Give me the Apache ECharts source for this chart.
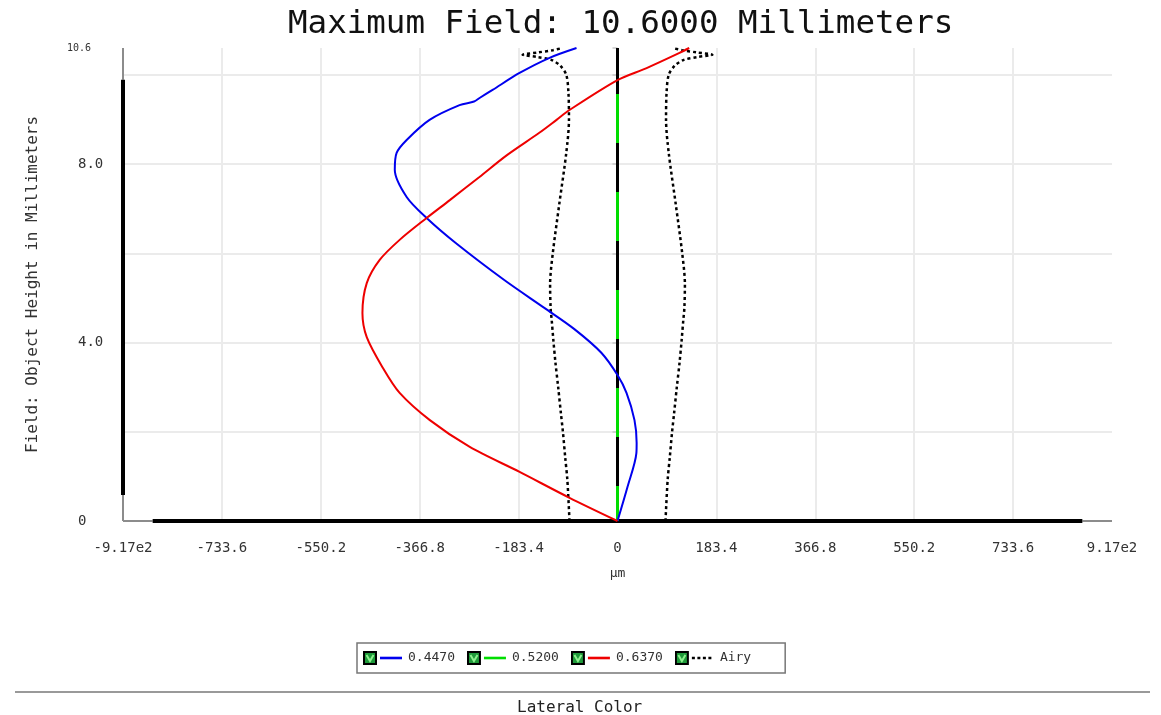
<!DOCTYPE html>
<html>
<head>
<meta charset="utf-8">
<title>Lateral Color</title>
<script src="https://cdn.jsdelivr.net/npm/echarts@6/dist/echarts.min.js"></script>
<style>
  html, body { margin: 0; padding: 0; background: #fff; }
  #chart { width: 1161px; height: 715px; }
</style>
</head>
<body>
<div id="chart"></div>
<script>
// Lateral color vs. field height (µm offset of each wavelength from the primary)
const wavelengths = ['0.4470', '0.5200', '0.6370', 'Airy'];
const seriesColors = ['#0000ee', '#00dd00', '#ee0000', '#000000'];

// 0.4470 µm: field height (mm) and lateral offset (µm)
const blueHeights = [0, 0.76, 1.52, 1.75, 2.26, 2.87, 3.27, 3.77, 4.30, 4.77, 5.40, 6.23, 6.79, 7.26, 7.87, 8.25, 8.54, 8.99, 9.32, 9.40, 9.48, 9.66, 10.04, 10.38, 10.6];
const blueOffsets = [0, 18.5, 35, 35.5, 31.5, 16.7, 0, -30, -80, -135, -210, -300, -354, -391, -413, -409.6, -391, -348.5, -292.9, -266, -255.8, -231.7, -181.6, -126, -76];

// 0.5200 µm is the reference wavelength: zero offset over the whole field
const greenHeights = [0, 10.6];
const greenOffsets = [0, 0];

// 0.6370 µm
const redHeights = [0, 0.52, 1.10, 1.66, 2.26, 2.87, 3.43, 4.12, 4.66, 5.33, 5.85, 6.30, 6.79, 7.19, 7.71, 8.20, 8.70, 8.99, 9.21, 9.88, 10.15, 10.49, 10.6];
const redOffsets = [0, -89, -181.6, -274, -348, -404, -435, -465, -473, -465, -441, -404, -354, -311, -256, -205, -145, -113, -89, 0, 54, 115, 133];

// Airy disk radius (µm), drawn on both sides of zero
const airyHeights = [0, 0.92, 1.43, 1.97, 2.42, 3.0, 3.54, 4.06, 4.5, 4.77, 5.3, 6.0, 7.1, 8.25, 9.0, 9.6, 10.0, 10.2, 10.33, 10.4, 10.45, 10.5, 10.55, 10.6];
const airyRadius = [89, 93, 97, 101, 105, 110, 115, 119, 122, 124, 125, 120, 108, 95, 90, 91, 95, 106, 122, 150, 176, 148, 120, 102];

// Axis ticks
const xMax = 917;
const xStep = 183.4;
const yMax = 10.6;
const yStep = 2;
const yLabelled = [0, 4, 8];

const mono = '"DejaVu Sans Mono", "Liberation Mono", monospace';

function pairs(hs, xs) { return hs.map((h, i) => [xs[i], h]); }

function legendIcon(color, dotted) {
  const dash = dotted ? " stroke-dasharray='3 2.5'" : '';
  const svg =
    "<svg xmlns='http://www.w3.org/2000/svg' width='40' height='14' viewBox='0 0 40 14'>" +
    "<rect x='1' y='1' width='12' height='12' fill='#1f9a3a' stroke='#000' stroke-width='2'/>" +
    "<path d='M3.5 4 L7 10 L10.5 4' fill='none' stroke='#8ef08e' stroke-width='2'/>" +
    "<line x1='17' y1='7' x2='39' y2='7' stroke='" + color + "' stroke-width='2.6'" + dash + "/>" +
    "</svg>";
  return 'image://data:image/svg+xml;charset=utf-8,' + encodeURIComponent(svg);
}

const chart = echarts.init(document.getElementById('chart'), null, { renderer: 'canvas' });

const frameGrey = '#8c8c8c';
const axisBlack = '#000';

function seg(a, b, color, width) {
  return [{ coord: a, lineStyle: { color: color, width: width, type: 'solid' } }, { coord: b }];
}

const option = {
  backgroundColor: '#fff',
  animation: false,
  title: [
    {
      text: 'Maximum Field: 10.6000 Millimeters',
      left: 283,
      top: 3,
      textStyle: { fontFamily: mono, fontSize: 32.5, fontWeight: 'normal', color: '#111' }
    },
    {
      text: 'Lateral Color',
      left: 512,
      top: 695,
      textStyle: { fontFamily: mono, fontSize: 16, fontWeight: 'normal', color: '#222' }
    }
  ],
  graphic: [
    { type: 'line', shape: { x1: 15, y1: 692, x2: 1150, y2: 692 }, style: { stroke: '#777', lineWidth: 1.5 } }
  ],
  legend: {
    data: wavelengths.map((w, i) => ({ name: w, icon: legendIcon(seriesColors[i], w === 'Airy') })),
    left: 357,
    top: 643,
    orient: 'horizontal',
    itemWidth: 40,
    itemHeight: 14,
    itemGap: 12,
    padding: [8, 34, 8, 6],
    borderColor: '#777',
    borderWidth: 1.5,
    selectedMode: false,
    textStyle: { fontFamily: mono, fontSize: 13, color: '#333' }
  },
  grid: { left: 123, right: 49, top: 48, bottom: 194 },
  xAxis: {
    type: 'value',
    min: -xMax,
    max: xMax,
    interval: xStep,
    name: 'µm',
    nameLocation: 'middle',
    nameGap: 46,
    nameTextStyle: { fontFamily: mono, fontSize: 13, color: '#333' },
    axisLine: { show: false },
    axisTick: { show: false },
    axisLabel: {
      margin: 20,
      fontFamily: mono,
      fontSize: 14,
      color: '#333',
      formatter: v => {
        if (Math.abs(v) > xMax - 1) return (v < 0 ? '-' : '') + '9.17e2';
        if (Math.abs(v) < 1e-6) return '0';
        return v.toFixed(1);
      }
    },
    splitLine: { show: true, showMinLine: false, showMaxLine: false, lineStyle: { color: '#ebebeb', width: 2 } }
  },
  yAxis: {
    type: 'value',
    min: 0,
    max: yMax,
    interval: yStep,
    name: 'Field: Object Height in Millimeters',
    nameLocation: 'middle',
    nameRotate: 90,
    nameGap: 82,
    nameTextStyle: { fontFamily: mono, fontSize: 16, color: '#333' },
    axisLine: { show: false },
    axisTick: { show: true, length: 5, lineStyle: { color: '#c8c8c8', width: 1.5 } },
    axisLabel: {
      margin: 45,
      align: 'left',
      fontFamily: mono,
      fontSize: 14,
      color: '#333',
      formatter: v => {
        if (Math.abs(v - yMax) < 1e-6) return '{top|10.6}';
        if (Math.abs(v) < 1e-6) return '0';
        if (yLabelled.some(t => Math.abs(t - v) < 1e-6)) return v.toFixed(1);
        return '';
      },
      rich: { top: { fontFamily: mono, fontSize: 10, color: '#333', padding: [0, 0, 0, -11] } }
    },
    splitLine: { show: true, showMinLine: false, showMaxLine: false, lineStyle: { color: '#ebebeb', width: 2 } }
  },
  series: [
    {
      // plot frame: axis lines with grey end caps, top border, zero line
      name: 'frame',
      type: 'line',
      data: [],
      silent: true,
      clip: false,
      z: 1,
      markLine: {
        z: 1,
        silent: true,
        symbol: 'none',
        label: { show: false },
        animation: false,
        lineStyle: { type: 'solid' },
        data: [
          seg([-xMax, 0], [-862, 0], frameGrey, 2),
          seg([862, 0], [xMax, 0], frameGrey, 2),
          seg([-862, 0], [862, 0], axisBlack, 4),
          seg([-xMax, 0], [-xMax, 0.58], frameGrey, 2),
          seg([-xMax, 9.89], [-xMax, yMax], frameGrey, 2),
          seg([-xMax, 0.58], [-xMax, 9.89], axisBlack, 4),
          seg([-951, yMax], [xMax, yMax], frameGrey, 2),
          seg([0, 0], [0, yMax], axisBlack, 3)
        ]
      }
    },
    {
      name: wavelengths[1],
      type: 'line',
      data: pairs(greenHeights, greenOffsets),
      showSymbol: false,
      z: 3,
      lineStyle: { color: seriesColors[1], width: 3, type: [49, 49], dashOffset: 14 }
    },
    {
      name: wavelengths[3],
      type: 'line',
      data: pairs(airyHeights, airyRadius.map(r => -r)),
      showSymbol: false,
      smooth: 0.3,
      z: 3,
      lineStyle: { color: seriesColors[3], width: 2.5, type: [3, 3] }
    },
    {
      name: wavelengths[3],
      type: 'line',
      data: pairs(airyHeights, airyRadius),
      showSymbol: false,
      smooth: 0.3,
      z: 3,
      lineStyle: { color: seriesColors[3], width: 2.5, type: [3, 3] }
    },
    {
      name: wavelengths[0],
      type: 'line',
      data: pairs(blueHeights, blueOffsets),
      showSymbol: false,
      smooth: 0.3,
      z: 4,
      lineStyle: { color: seriesColors[0], width: 2 }
    },
    {
      name: wavelengths[2],
      type: 'line',
      data: pairs(redHeights, redOffsets),
      showSymbol: false,
      smooth: 0.3,
      z: 4,
      lineStyle: { color: seriesColors[2], width: 2 }
    }
  ]
};

chart.setOption(option);
</script>
</body>
</html>
